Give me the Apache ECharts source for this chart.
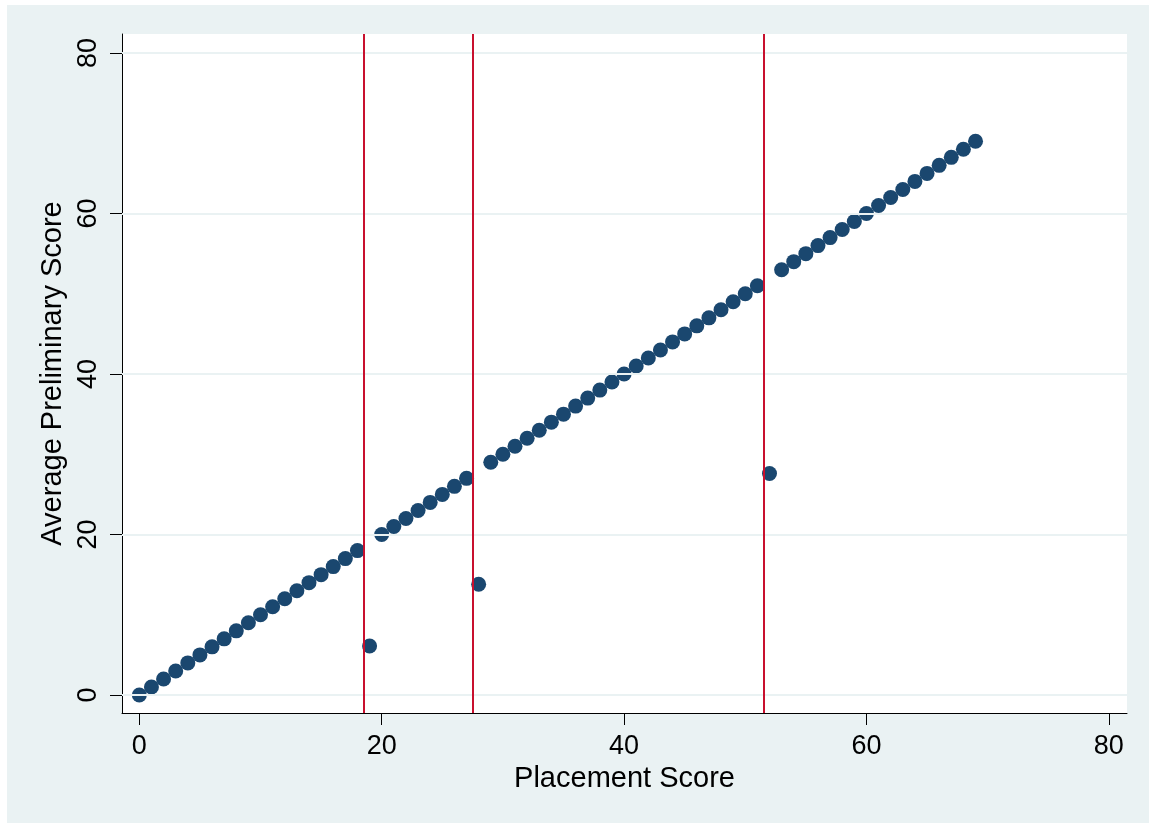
<!DOCTYPE html>
<html>
<head>
<meta charset="utf-8">
<title>Average Preliminary Score by Placement Score</title>
<script src="https://cdn.jsdelivr.net/npm/echarts@6/dist/echarts.min.js"></script>
<style>
  html, body { margin: 0; padding: 0; background: #ffffff; }
  #chart { position: absolute; left: 7px; top: 5px; width: 1142px; height: 818px; }
</style>
</head>
<body>
<div id="chart"></div>
<script>
// Placement score (x) and the average preliminary score observed at each value (y)
const placementScore = [
  0, 1, 2, 3, 4, 5, 6, 7, 8, 9,
  10, 11, 12, 13, 14, 15, 16, 17, 18, 19,
  20, 21, 22, 23, 24, 25, 26, 27, 28, 29,
  30, 31, 32, 33, 34, 35, 36, 37, 38, 39,
  40, 41, 42, 43, 44, 45, 46, 47, 48, 49,
  50, 51, 52, 53, 54, 55, 56, 57, 58, 59,
  60, 61, 62, 63, 64, 65, 66, 67, 68, 69
];
const avgPreliminaryScore = [
  0, 1, 2, 3, 4, 5, 6, 7, 8, 9,
  10, 11, 12, 13, 14, 15, 16, 17, 18, 6.1,
  20, 21, 22, 23, 24, 25, 26, 27, 13.8, 29,
  30, 31, 32, 33, 34, 35, 36, 37, 38, 39,
  40, 41, 42, 43, 44, 45, 46, 47, 48, 49,
  50, 51, 27.6, 53, 54, 55, 56, 57, 58, 59,
  60, 61, 62, 63, 64, 65, 66, 67, 68, 69
];
// Cut-off positions drawn as vertical reference lines
const cutoffs = [18.5, 27.5, 51.5];
// Tick labels on both axes
const xTicks = [0, 20, 40, 60, 80];
const yTicks = [0, 20, 40, 60, 80];

const FONT = '"Liberation Sans", Arial, sans-serif';
const points = placementScore.map((x, i) => [x, avgPreliminaryScore[i]]);

const chart = echarts.init(document.getElementById('chart'), null, { renderer: 'canvas' });
chart.setOption({
  backgroundColor: '#EAF2F3',
  animation: false,
  grid: {
    left: 115, right: 22, top: 29, bottom: 110,
    show: true, backgroundColor: '#ffffff', borderWidth: 0
  },
  xAxis: {
    type: 'value',
    min: -1.43, max: 81.5,
    name: 'Placement Score',
    nameLocation: 'middle',
    nameGap: 43,
    nameTextStyle: { fontFamily: FONT, fontSize: 29, color: '#000' },
    axisLine: { show: true, onZero: false, lineStyle: { color: '#000', width: 1 } },
    axisTick: { show: true, inside: false, length: 12, customValues: xTicks, lineStyle: { color: '#000', width: 1 } },
    axisLabel: { customValues: xTicks, margin: 20, fontFamily: FONT, fontSize: 27, color: '#000' },
    splitLine: { show: false }
  },
  yAxis: {
    type: 'value',
    min: -2.24, max: 82.37,
    name: 'Average Preliminary Score',
    nameLocation: 'middle',
    nameGap: 54,
    nameRotate: 90,
    nameTextStyle: { fontFamily: FONT, fontSize: 29, color: '#000' },
    axisLine: { show: true, onZero: false, lineStyle: { color: '#000', width: 1 } },
    axisTick: { show: true, inside: false, length: 12, customValues: yTicks, lineStyle: { color: '#000', width: 1 } },
    axisLabel: { customValues: yTicks, rotate: 90, margin: 20, fontFamily: FONT, fontSize: 27, color: '#000' },
    splitLine: { show: false }
  },
  series: [
    {
      // horizontal grid lines at the y tick values
      type: 'line',
      data: [],
      silent: true,
      markLine: {
        silent: true,
        symbol: 'none',
        label: { show: false },
        lineStyle: { color: '#EAF2F3', width: 2, type: 'solid' },
        data: yTicks.map(v => ({ yAxis: v }))
      },
      z: 1
    },
    {
      // vertical cut-off lines
      type: 'line',
      data: [],
      silent: true,
      markLine: {
        silent: true,
        symbol: 'none',
        label: { show: false },
        lineStyle: { color: '#C8102E', width: 2, type: 'solid' },
        data: cutoffs.map(v => ({ xAxis: v }))
      },
      z: 2
    },
    {
      type: 'scatter',
      data: points,
      symbol: 'circle',
      symbolSize: 15,
      itemStyle: { color: '#1A476F', opacity: 1 },
      z: 3
    }
  ]
});
</script>
</body>
</html>
